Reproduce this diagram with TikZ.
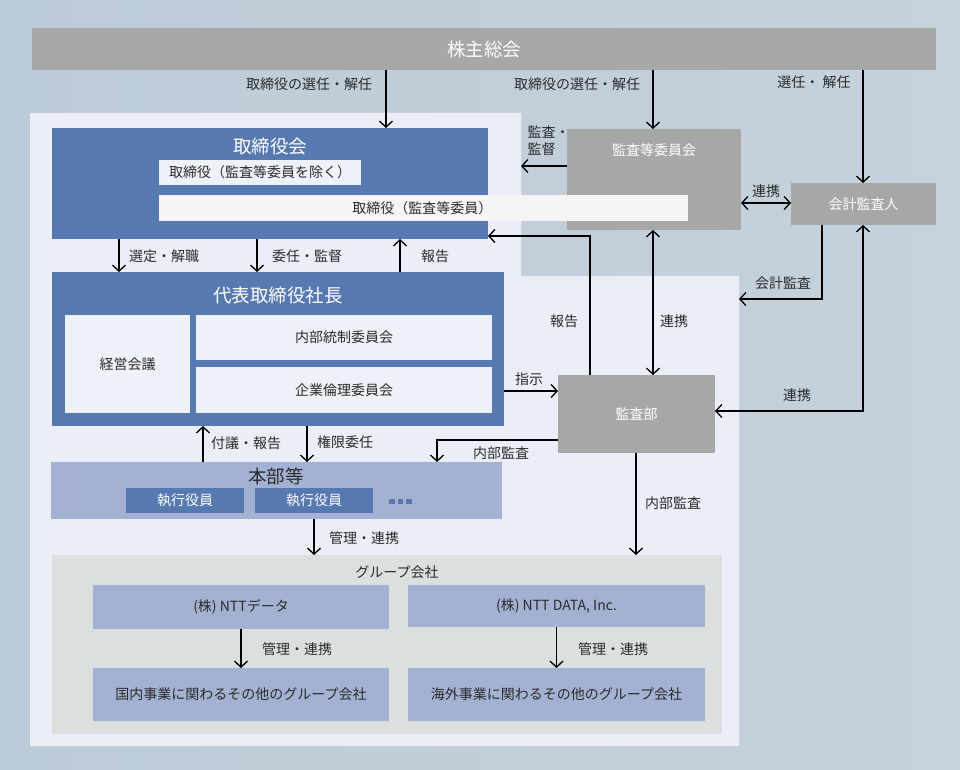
\documentclass[tikz,border=0pt]{standalone}
\usepackage{fontspec}
\setmainfont{Noto Sans CJK JP}
\usetikzlibrary{arrows.meta}

\definecolor{bgL}{HTML}{BCCBD8}
\definecolor{bgM}{HTML}{A8BCD2}
\definecolor{bgR}{HTML}{C6D2DC}
\definecolor{pane}{HTML}{EBEEF7}
\definecolor{blu}{HTML}{5779B2}
\definecolor{lblu}{HTML}{A3B1D2}
\definecolor{gry}{HTML}{A6A7A7}
\definecolor{grpbg}{HTML}{DCDFE0}
\definecolor{wbox}{HTML}{EFF1F8}
\definecolor{wlong}{HTML}{F5F5F8}
\definecolor{txt}{HTML}{2B2B2B}

\tikzset{
  box/.style={anchor=north west, inner sep=0pt, outer sep=0pt},
  graybox/.style={box, fill=gry, text=white, font=\fontsize{14pt}{16pt}\selectfont},
  bluebox/.style={box, fill=blu},
  whitebox/.style={box, fill=wbox, text=txt, font=\fontsize{14pt}{16pt}\selectfont},
  subbox/.style={box, fill=lblu, text=txt, font=\fontsize{14pt}{16pt}\selectfont},
  title/.style={inner sep=0pt, font=\fontsize{18.5pt}{20pt}\selectfont},
  lbl/.style={inner sep=0pt, text=txt, font=\fontsize{14pt}{16pt}\selectfont},
}

\begin{document}
\begin{tikzpicture}[x=1pt,y=-1pt, >={Straight Barb[length=6pt,width=13pt]},
  every path/.style={line width=1.3pt}]
    % Background and panels
    \useasboundingbox (0,0) rectangle (960,770);
    \shade[left color=bgL, middle color=bgM, right color=bgR, line width=0pt] (0,0) rectangle (960,770);
    \coordinate (notch) at (521,276);
    \coordinate (pnE) at (739,276);
    \fill[pane] (30,113) -- (521,113) -- (notch) -- (pnE) -- (739,746) -- (30,746) -- cycle;

    % Shareholders meeting
    \node[graybox, minimum width=904pt, minimum height=42pt, font=\fontsize{18.5pt}{20pt}\selectfont] (gm) at (32,28) {株主総会};

    % Board of directors
    \node[bluebox, minimum width=436pt, minimum height=111pt] (brd) at (52,128) {};
    \node[title, text=white] (brdT) at (270,146) {取締役会};
    \node[whitebox, minimum width=202pt, minimum height=25pt] (dir) at (159,160) {取締役（監査等委員を除く）};
    \node[graybox, minimum width=174pt, minimum height=101pt] (acm) at (567,129) {};
    \node[inner sep=0pt, text=white, font=\fontsize{14pt}{16pt}\selectfont] (acmT) at (654,150) {監査等委員会};
    \node[box, fill=wlong, minimum width=529pt, minimum height=26pt] (dirA) at (159,195) {};
    \node[lbl, anchor=east] (dirAT) at (493,208) {取締役（監査等委員）};
    \node[graybox, minimum width=145pt, minimum height=42pt] (aca) at (791,183) {会計監査人};

    % President
    \node[bluebox, minimum width=452pt, minimum height=154pt] (ceo) at (52,272) {};
    \node[title, text=white] (ceoT) at (278,295) {代表取締役社長};
    \node[whitebox, minimum width=125pt, minimum height=98pt] (mgm) at (65,315) {経営会議};
    \node[whitebox, minimum width=296pt, minimum height=45pt] (icc) at (196,315) {内部統制委員会};
    \node[whitebox, minimum width=296pt, minimum height=46pt] (eth) at (196,367) {企業倫理委員会};

    % Headquarters
    \node[subbox, minimum width=451pt, minimum height=57pt] (hq) at (51,462) {};
    \node[title, text=txt] (hqT) at (276,476) {本部等};
    \node[bluebox, text=white, minimum width=118pt, minimum height=25pt, font=\fontsize{14pt}{16pt}\selectfont] (ex1) at (126,488) {執行役員};
    \node[bluebox, text=white, minimum width=118pt, minimum height=25pt, font=\fontsize{14pt}{16pt}\selectfont] (ex2) at (255,488) {執行役員};
    \foreach \i in {0,1,2}
        \fill[blu, line width=0pt] (389+8.5*\i,498.5) rectangle ++(5.5,5);

    % Audit department
    \node[graybox, minimum width=157pt, minimum height=78pt] (adp) at (558,375) {監査部};

    % Group companies
    \node[box, fill=grpbg, minimum width=670pt, minimum height=179pt] (grp) at (52,555) {};
    \node[lbl] (grpT) at (397,572) {グループ会社};
    \node[subbox, minimum width=296pt, minimum height=44pt] (nttd) at (93,585) {(株) NTTデータ};
    \node[subbox, minimum width=297pt, minimum height=42pt] (ntti) at (408,585) {(株) NTT DATA, Inc.};
    \node[subbox, minimum width=296pt, minimum height=53pt] (dom) at (93,668) {国内事業に関わるその他のグループ会社};
    \node[subbox, minimum width=297pt, minimum height=53pt] (ovs) at (408,668) {海外事業に関わるその他のグループ会社};

    % Arrows from the shareholders meeting
    \draw[->] (gm.south -| 386,0) -- (brd.north -| 386,0);
    \draw[->] (gm.south -| 653,0) -- (acm.north -| 653,0);
    \draw[->] (gm.south -| 863,0) -- (aca.north -| 863,0);
    \node[lbl] (l1) at (309,84) {取締役の選任・解任};
    \node[lbl] (l2) at (577,84) {取締役の選任・解任};
    \node[lbl] (l3) at (814,82) {選任・ 解任};

    % Audit committee and auditor
    \draw[->] (acm.west |- 0,166) -- (notch |- 0,166);
    \node[lbl, align=left, anchor=north west] (l4) at (527,125) {監査・\\[1.5pt]監督};
    \draw[<->] (acm.east |- 0,203) -- (aca.west |- 0,203);
    \node[lbl] (l5) at (766,191) {連携};
    \draw[->] (aca.south -| 822,0) |- (pnE |- 0,299);
    \node[lbl] (l6) at (783,283) {会計監査};
    \draw[<->] (aca.south -| 863,0) |- (adp.east |- 0,411);
    \node[lbl] (l7) at (797,395) {連携};

    % Audit department links
    \draw[->] (adp.north -| 590,0) |- (brd.east |- 0,236);
    \node[lbl] (l8) at (564,321) {報告};
    \draw[<->] (acm.south -| 653,0) -- (adp.north -| 653,0);
    \node[lbl] (l9) at (674,321) {連携};
    \draw[->] (ceo.east |- 0,391) -- (adp.west |- 0,391);
    \node[lbl] (l10) at (529,379) {指示};
    \draw[->] (adp.west |- 0,440) -| (hq.north -| 437,0);
    \node[lbl] (l11) at (501,453) {内部監査};
    \draw[->] (adp.south -| 636,0) -- (grp.north -| 636,0);
    \node[lbl] (l12) at (673,503) {内部監査};

    % Board to president
    \draw[->] (brd.south -| 119,0) -- (ceo.north -| 119,0);
    \node[lbl] (l13) at (164,256) {選定・解職};
    \draw[->] (brd.south -| 257,0) -- (ceo.north -| 257,0);
    \node[lbl] (l14) at (307,256) {委任・監督};
    \draw[->] (ceo.north -| 400,0) -- (brd.south -| 400,0);
    \node[lbl] (l15) at (435,256) {報告};

    % President and headquarters
    \draw[->] (hq.north -| 203,0) -- (ceo.south -| 203,0);
    \node[lbl] (l16) at (246,443) {付議・報告};
    \draw[->] (ceo.south -| 307,0) -- (hq.north -| 307,0);
    \node[lbl] (l17) at (345,442) {権限委任};
    \draw[->] (hq.south -| 314,0) -- (grp.north -| 314,0);
    \node[lbl] (l18) at (364,538) {管理・連携};

    % Inside the group
    \draw[->] (nttd.south) -- (dom.north);
    \node[lbl] (l19) at (297,649) {管理・連携};
    \draw[->] (ntti.south) -- (ovs.north);
    \node[lbl] (l20) at (613,649) {管理・連携};
\end{tikzpicture}
\end{document}
